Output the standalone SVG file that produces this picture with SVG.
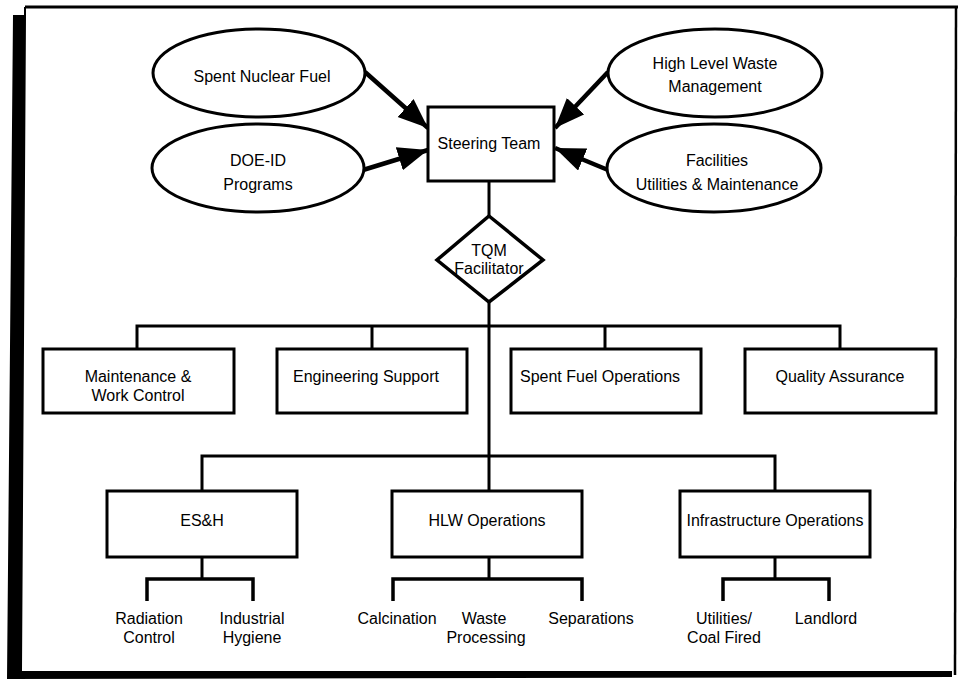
<svg xmlns="http://www.w3.org/2000/svg" width="962" height="679" viewBox="0 0 962 679">
<style>
  .t { font-family: "Liberation Sans", Arial, sans-serif; font-size: 16px; fill: #000; text-anchor: middle; dominant-baseline: central; }
  .n { fill: #fff; stroke: #000; stroke-width: 3; }
  .c { fill: none; stroke: #000; stroke-width: 3; }
  .a { fill: none; stroke: #000; stroke-width: 4.5; }
</style>
<defs>
  <marker id="ah" markerUnits="userSpaceOnUse" markerWidth="32" markerHeight="26" refX="30" refY="12" orient="auto">
    <path d="M0,0 L30,12 L0,24 z" fill="#000"/>
  </marker>
</defs>
<rect x="0" y="0" width="962" height="679" fill="#fff"/>
<g id="frame">
  <path d="M25,7 L958,7" stroke="#000" stroke-width="3" fill="none"/>
  <path d="M25,7 L25,16" stroke="#000" stroke-width="2" fill="none"/>
  <path d="M956,7 L955,675" stroke="#000" stroke-width="2.5" fill="none"/>
  <polygon points="13,15 26,15 22,671 952,671 952,677 7,679" fill="#000"/>
</g>
<g id="connectors">
  <line class="a" x1="365" y1="72" x2="428" y2="128" marker-end="url(#ah)"/>
  <line class="a" x1="363" y1="170" x2="428" y2="150" marker-end="url(#ah)"/>
  <line class="a" x1="608" y1="72" x2="555" y2="128" marker-end="url(#ah)"/>
  <line class="a" x1="608" y1="170" x2="555" y2="148" marker-end="url(#ah)"/>
  <line class="c" x1="489" y1="181" x2="489" y2="216"/>
  <line class="c" x1="489" y1="302" x2="489" y2="456"/>
  <polyline class="c" points="137,349 137,326 840,326 840,349"/>
  <line class="c" x1="372" y1="326" x2="372" y2="349"/>
  <line class="c" x1="605" y1="326" x2="605" y2="349"/>
  <polyline class="c" points="202,491 202,456 775,456 775,491"/>
  <line class="c" x1="489" y1="456" x2="489" y2="491"/>
  <line class="c" x1="202" y1="557" x2="202" y2="579"/>
  <polyline class="c" points="147,601 147,579 253,579 253,601" style="stroke-width:3.5"/>
  <line class="c" x1="489" y1="557" x2="489" y2="579"/>
  <polyline class="c" points="393,601 393,579 582,579 582,601" style="stroke-width:3.5"/>
  <line class="c" x1="775" y1="557" x2="775" y2="579"/>
  <polyline class="c" points="723,601 723,579 829,579 829,601" style="stroke-width:3.5"/>
</g>
<g id="spent-nuclear-fuel">
  <ellipse class="n" cx="259" cy="73" rx="106" ry="44"/>
  <text class="t" x="262" y="76">Spent Nuclear Fuel</text>
</g>
<g id="doe-id-programs">
  <ellipse class="n" cx="258" cy="168" rx="106" ry="44"/>
  <text class="t" x="258" y="160">DOE-ID</text>
  <text class="t" x="258" y="184">Programs</text>
</g>
<g id="high-level-waste">
  <ellipse class="n" cx="715" cy="73" rx="107" ry="44"/>
  <text class="t" x="715" y="63">High Level Waste</text>
  <text class="t" x="715" y="86">Management</text>
</g>
<g id="facilities">
  <ellipse class="n" cx="714" cy="168" rx="107" ry="44"/>
  <text class="t" x="717" y="160">Facilities</text>
  <text class="t" x="717" y="184">Utilities &amp; Maintenance</text>
</g>
<g id="steering-team">
  <rect class="n" x="428" y="107" width="126" height="74"/>
  <text class="t" x="489" y="143">Steering Team</text>
</g>
<g id="tqm-facilitator">
  <polygon class="n" points="489,216 543,260 489,302 437,260" style="stroke-width:3.5"/>
  <text class="t" x="489" y="250">TQM</text>
  <text class="t" x="489" y="268">Facilitator</text>
</g>
<g id="maintenance">
  <rect class="n" x="43" y="349" width="191" height="64"/>
  <text class="t" x="138" y="376">Maintenance &amp;</text>
  <text class="t" x="138" y="395">Work Control</text>
</g>
<g id="engineering-support">
  <rect class="n" x="277" y="349" width="190" height="64"/>
  <text class="t" x="366" y="376">Engineering Support</text>
</g>
<g id="spent-fuel-operations">
  <rect class="n" x="511" y="349" width="190" height="64"/>
  <text class="t" x="600" y="376">Spent Fuel Operations</text>
</g>
<g id="quality-assurance">
  <rect class="n" x="745" y="349" width="191" height="64"/>
  <text class="t" x="840" y="376">Quality Assurance</text>
</g>
<g id="esh">
  <rect class="n" x="107" y="491" width="190" height="66"/>
  <text class="t" x="202" y="520">ES&amp;H</text>
</g>
<g id="hlw-operations">
  <rect class="n" x="392" y="491" width="190" height="66"/>
  <text class="t" x="487" y="520">HLW Operations</text>
</g>
<g id="infrastructure-operations">
  <rect class="n" x="680" y="491" width="190" height="66"/>
  <text class="t" x="775" y="520">Infrastructure Operations</text>
</g>
<g id="radiation-control">
  <text class="t" x="149" y="618">Radiation</text>
  <text class="t" x="149" y="637">Control</text>
</g>
<g id="industrial-hygiene">
  <text class="t" x="252" y="618">Industrial</text>
  <text class="t" x="252" y="637">Hygiene</text>
</g>
<g id="calcination">
  <text class="t" x="397" y="618">Calcination</text>
</g>
<g id="waste-processing">
  <text class="t" x="484" y="618">Waste</text>
  <text class="t" x="486" y="637">Processing</text>
</g>
<g id="separations">
  <text class="t" x="591" y="618">Separations</text>
</g>
<g id="utilities-coal-fired">
  <text class="t" x="724" y="618">Utilities/</text>
  <text class="t" x="724" y="637">Coal Fired</text>
</g>
<g id="landlord">
  <text class="t" x="826" y="618">Landlord</text>
</g>
</svg>
